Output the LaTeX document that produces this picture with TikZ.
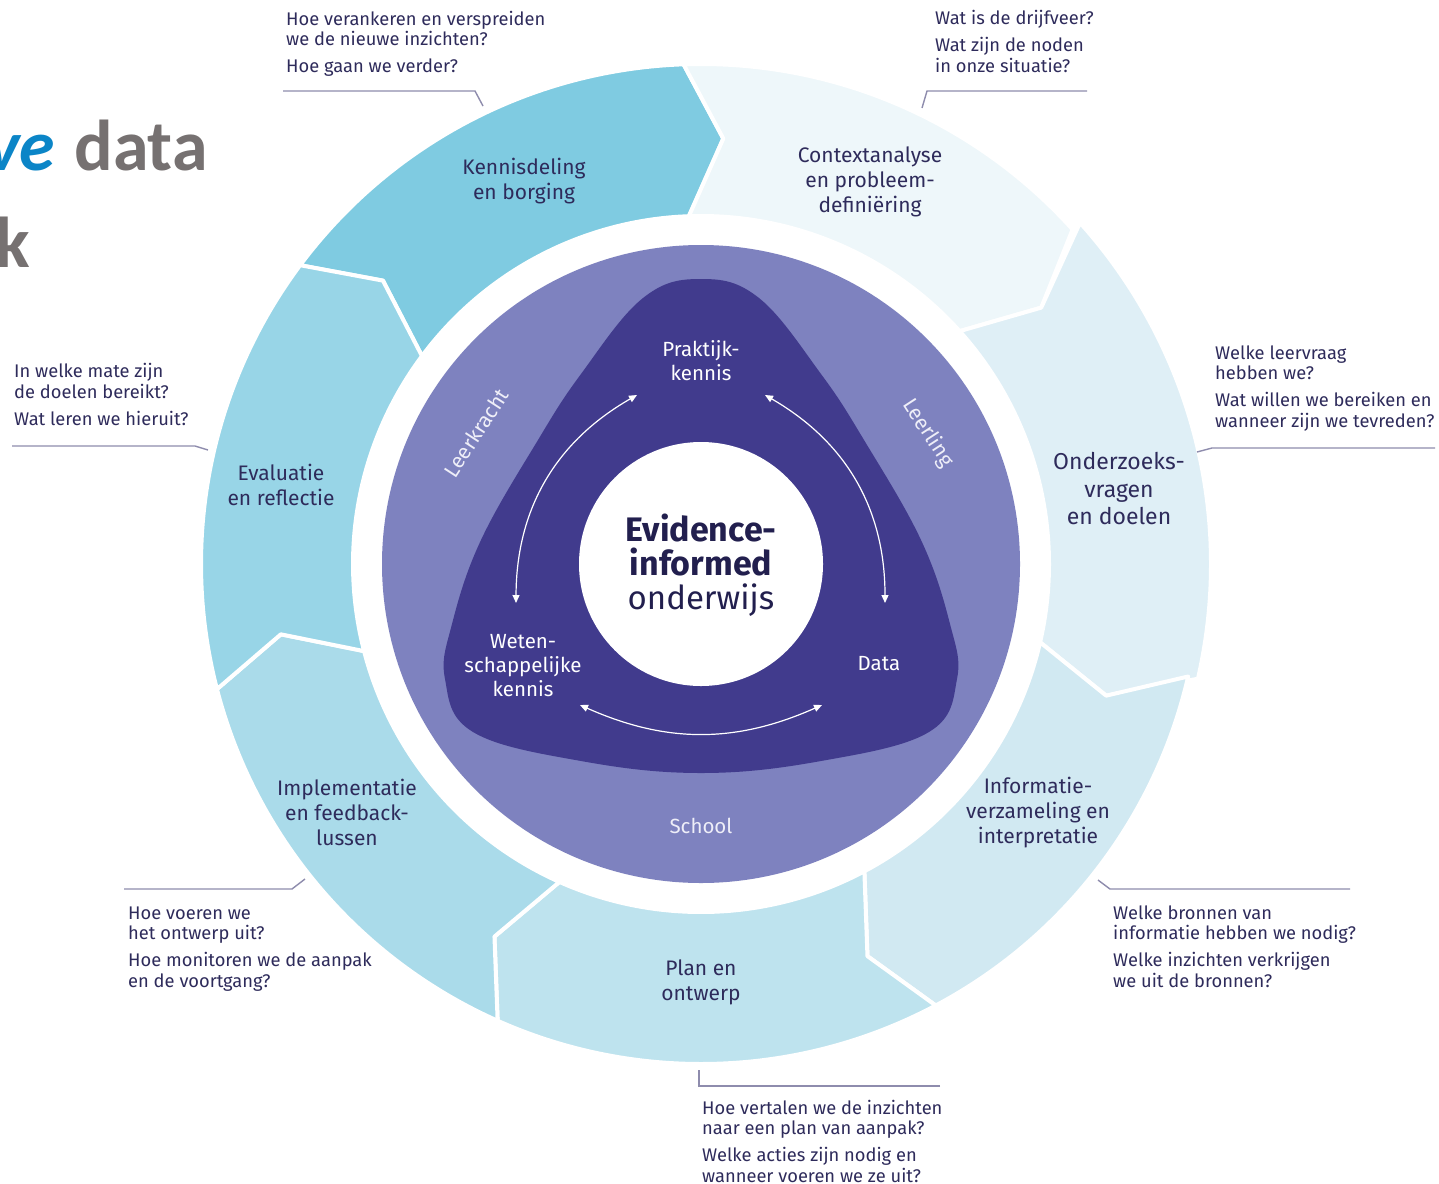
\documentclass[tikz,border=0pt]{standalone}
\usepackage{fontspec}
\setmainfont{Fira Sans}
\newfontfamily\titlefont{Carlito}
\usetikzlibrary{arrows.meta}
\definecolor{navy}{HTML}{2E2B5B}
\definecolor{centernavy}{HTML}{221F4E}
\definecolor{kennisC}{HTML}{7FCBE1}
\definecolor{evalC}{HTML}{98D5E7}
\definecolor{implC}{HTML}{AADBEA}
\definecolor{planC}{HTML}{BEE3EE}
\definecolor{infoC}{HTML}{D1E9F2}
\definecolor{onderC}{HTML}{DFEFF6}
\definecolor{contextC}{HTML}{EEF7FA}
\definecolor{ringpurple}{HTML}{7E82BF}
\definecolor{corepurple}{HTML}{413B8D}
\definecolor{calloutline}{HTML}{8E8CAD}
\definecolor{rolewhite}{HTML}{EEEEF8}
\definecolor{titleblue}{HTML}{0B85C7}
\definecolor{titlegray}{HTML}{767171}
\newcommand\ringseg[4]{% color, start angle, end angle, outer radius
  \path[fill=#1, draw=white, line width=4pt, line join=round]
    (#2:#4) arc[start angle=#2, end angle=#3, radius=#4]
    -- ({#3-5}:426) -- (#3:348)
    arc[start angle=#3, end angle=#2, radius=348]
    -- ({#2-5}:426) -- cycle;}
\tikzset{
  seglabel/.style={font=\fontsize{21}{25}\selectfont, text=navy, align=center, inner sep=0},
  question/.style={font=\fontsize{18.3}{20.5}\selectfont, text=navy, align=left, anchor=north west, inner sep=0},
  callout/.style={draw=calloutline, line width=1.4pt},
  corelabel/.style={font=\fontsize{20.5}{24}\selectfont, text=white, align=center, inner sep=0},
  rolelabel/.style={font=\fontsize{21}{24}\selectfont, text=rolewhite, inner sep=0},
  cyclearrow/.style={draw=white, line width=1.2pt, {Triangle[length=8pt,width=7pt]}-{Triangle[length=8pt,width=7pt]}},
}
\begin{document}
\begin{tikzpicture}[x=1pt,y=1pt]
\useasboundingbox (0,0) rectangle (1439,-1183);
\fill[white] (0,0) rectangle (1439,-1183);

% title fragment
\node[anchor=base west, inner sep=0, font=\titlefont\bfseries\fontsize{72}{80}\selectfont] (title) at (-14,-170) {\textcolor{titleblue}{\itshape ve}\hspace{19pt}\textcolor{titlegray}{data}};
\node[anchor=base west, inner sep=0, font=\titlefont\bfseries\fontsize{72}{80}\selectfont, text=titlegray] (title2) at (-5,-267) {k};

\begin{scope}[shift={(701,-564)}]
  % outer ring segments
  \ringseg{kennisC}{143.3}{92}{500}
  \ringseg{contextC}{92}{42}{500}
  \ringseg{onderC}{42}{-13}{510}
  \ringseg{infoC}{-13}{-62}{500}
  \ringseg{planC}{-62}{-114}{500}
  \ringseg{implC}{-114}{-165.5}{500}
  \ringseg{evalC}{194.5}{143.3}{500}
  % purple disc
  \fill[ringpurple] (0,0) circle[radius=319];
  % core rounded triangle
  \fill[corepurple] plot[smooth cycle, tension=0.65] coordinates {
    (0,285) (58,266) (120,190) (163,124) (220,24) (249,-60) (256,-115)
    (228,-168) (120,-197) (0,-209) (-120,-197) (-228,-168) (-256,-115)
    (-249,-60) (-220,24) (-163,124) (-120,190) (-58,266)};
  % white centre
  \fill[white] (0,0) circle[radius=122];
  % cycle arrows
  \coordinate (lAs) at (-64,169);
  \coordinate (lAe) at (-185,-39);
  \coordinate (rAs) at (64,169);
  \coordinate (rAe) at (184,-39);
  \coordinate (bAs) at (-121,-141);
  \coordinate (bAe) at (121,-141);
  \draw[cyclearrow] (lAs) to[bend right=30] (lAe);
  \draw[cyclearrow] (rAs) to[bend left=30] (rAe);
  \draw[cyclearrow] (bAs) to[bend right=24] (bAe);
\end{scope}

% centre text
\node[font=\fontsize{33}{34}\selectfont, text=centernavy, align=center, inner sep=0] (core) at (701,-565) {{\fontsize{34}{34}\selectfont\bfseries Evidence-}\\{\fontsize{34}{34}\selectfont\bfseries informed}\\onderwijs};

% core labels
\node[corelabel] (praktijk) at (701,-361) {Praktijk-\\kennis};
\node[corelabel] (weten) at (523,-666) {Weten-\\schappelijke\\kennis};
\node[corelabel] (data) at (879,-664) {Data};
\node[rolelabel, font=\fontsize{20.5}{24}\selectfont] (school) at (701,-826) {School};
\node[rolelabel, rotate=57] (leerkracht) at (476,-433) {Leerkracht};
\node[rolelabel, rotate=-57] (leerling) at (928,-433) {Leerling};

% segment labels
\node[seglabel] (kennis) at (524,-181) {Kennisdeling\\en borging};
\node[seglabel] (context) at (870,-182) {Contextanalyse\\en probleem-\\definiëring};
\node[seglabel, font=\fontsize{23}{27.5}\selectfont] (onderzoek) at (1119,-489) {Onderzoeks-\\vragen\\en doelen};
\node[seglabel] (info) at (1038,-813) {Informatie-\\verzameling en\\interpretatie};
\node[seglabel] (plan) at (701,-982) {Plan en\\ontwerp};
\node[seglabel] (impl) at (347,-812) {Implementatie\\en feedback-\\lussen};
\node[seglabel] (eval) at (281,-485) {Evaluatie\\en reflectie};

% questions
\node[question] (qkennis) at (286,-11) {Hoe verankeren en verspreiden\\we de nieuwe inzichten?\\[6.5pt]Hoe gaan we verder?};
\node[question] (qcontext) at (935,-10.5) {Wat is de drijfveer?\\[6.5pt]Wat zijn de noden\\in onze situatie?};
\node[question] (qonder) at (1215,-345.5) {Welke leervraag\\hebben we?\\[6.5pt]Wat willen we bereiken en\\wanneer zijn we tevreden?};
\node[question] (qeval) at (14,-363.5) {In welke mate zijn\\de doelen bereikt?\\[6.5pt]Wat leren we hieruit?};
\node[question] (qimpl) at (128,-906.5) {Hoe voeren we\\het ontwerp uit?\\[6.5pt]Hoe monitoren we de aanpak\\en de voortgang?};
\node[question] (qplan) at (702,-1100) {Hoe vertalen we de inzichten\\naar een plan van aanpak?\\[6.5pt]Welke acties zijn nodig en\\wanneer voeren we ze uit?};
\node[question] (qinfo) at (1113,-905.5) {Welke bronnen van\\informatie hebben we nodig?\\[6.5pt]Welke inzichten verkrijgen\\we uit de bronnen?};

% callout connectors
\coordinate (c1a) at (283,-91);  \coordinate (c1b) at (475,-91);  \coordinate (c1c) at (483,-106);
\coordinate (c2a) at (1087,-91); \coordinate (c2b) at (927,-91);  \coordinate (c2c) at (922,-108);
\coordinate (c3a) at (1435,-448);\coordinate (c3b) at (1212,-448);\coordinate (c3c) at (1197,-452);
\coordinate (c4a) at (12,-446);  \coordinate (c4b) at (195,-446); \coordinate (c4c) at (208,-450);
\coordinate (c5a) at (124,-889); \coordinate (c5b) at (292,-889); \coordinate (c5c) at (305,-879);
\coordinate (c6a) at (940,-1086);\coordinate (c6b) at (699,-1086);\coordinate (c6c) at (699,-1070);
\coordinate (c7a) at (1350,-889);\coordinate (c7b) at (1110,-889);\coordinate (c7c) at (1098,-880);
\draw[callout] (c1a) -- (c1b) -- (c1c);
\draw[callout] (c2a) -- (c2b) -- (c2c);
\draw[callout] (c3a) -- (c3b) -- (c3c);
\draw[callout] (c4a) -- (c4b) -- (c4c);
\draw[callout] (c5a) -- (c5b) -- (c5c);
\draw[callout] (c6a) -- (c6b) -- (c6c);
\draw[callout] (c7a) -- (c7b) -- (c7c);
\end{tikzpicture}
\end{document}
